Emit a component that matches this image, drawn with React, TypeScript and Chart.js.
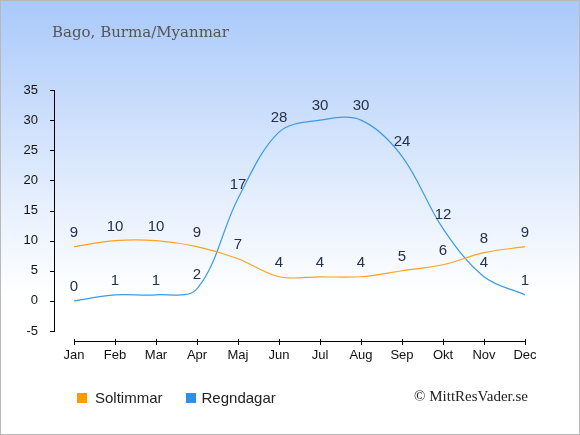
import { useEffect, useRef } from "react";
import { Chart, registerables } from "chart.js";

Chart.register(...registerables);

const months = ["Jan", "Feb", "Mar", "Apr", "Maj", "Jun", "Jul", "Aug", "Sep", "Okt", "Nov", "Dec"];
const sunHours = [9, 10, 10, 9, 7, 4, 4, 4, 5, 6, 8, 9];
const rainDays = [0, 1, 1, 2, 17, 28, 30, 30, 24, 12, 4, 1];
const yTicks = [-5, 0, 5, 10, 15, 20, 25, 30, 35];

const SUN = "#ffa21f";
const RAIN = "#3a9be8";

// axes are drawn detached from the plot area, like the original
const axesPlugin = {
  id: "detachedAxes",
  afterDraw(chart: any) {
    const ctx = chart.ctx;
    const x = chart.scales.x;
    const y = chart.scales.y;
    const axisX = chart.chartArea.left - 20;
    const axisY = chart.chartArea.bottom + 10;
    ctx.save();
    ctx.strokeStyle = "#000";
    ctx.lineWidth = 1;
    ctx.beginPath();
    ctx.moveTo(axisX + 0.5, y.getPixelForValue(yTicks[yTicks.length - 1]));
    ctx.lineTo(axisX + 0.5, y.getPixelForValue(yTicks[0]));
    yTicks.forEach((v) => {
      const py = Math.round(y.getPixelForValue(v)) + 0.5;
      ctx.moveTo(axisX - 4, py);
      ctx.lineTo(axisX + 1, py);
    });
    ctx.moveTo(x.getPixelForValue(0), axisY + 0.5);
    ctx.lineTo(x.getPixelForValue(months.length - 1), axisY + 0.5);
    months.forEach((_, i) => {
      const px = Math.round(x.getPixelForValue(i)) + 0.5;
      ctx.moveTo(px, axisY - 2);
      ctx.lineTo(px, axisY + 4);
    });
    ctx.stroke();
    ctx.restore();
  },
};

const valueLabels = {
  id: "valueLabels",
  afterDatasetsDraw(chart: any) {
    const ctx = chart.ctx;
    ctx.save();
    ctx.font = "15px 'Liberation Sans', Arial, sans-serif";
    ctx.fillStyle = "#25304a";
    ctx.textAlign = "center";
    ctx.textBaseline = "middle";
    chart.data.datasets.forEach((ds: any, di: number) => {
      chart.getDatasetMeta(di).data.forEach((pt: any, i: number) => {
        ctx.fillText(String(ds.data[i]), pt.x, pt.y - 14);
      });
    });
    ctx.restore();
  },
};

const App = () => {
  const canvasRef = useRef<HTMLCanvasElement>(null);

  useEffect(() => {
    if (!canvasRef.current) return;
    const tickFont = { family: "'Liberation Sans', Arial, sans-serif", size: 13 };
    const myChart = new Chart(canvasRef.current, {
      type: "line",
      data: {
        labels: months,
        datasets: [
          {
            label: "Soltimmar",
            data: sunHours,
            borderColor: SUN,
            backgroundColor: SUN,
            borderWidth: 1.2,
            pointRadius: 0,
            tension: 0.35,
          },
          {
            label: "Regndagar",
            data: rainDays,
            borderColor: RAIN,
            backgroundColor: RAIN,
            borderWidth: 1.2,
            pointRadius: 0,
            tension: 0.35,
          },
        ],
      },
      options: {
        animation: false,
        responsive: false,
        devicePixelRatio: 1,
        layout: { padding: { left: 0, top: 90, right: 55, bottom: 0 } },
        plugins: {
          legend: { display: false },
          title: { display: false },
          tooltip: { enabled: false },
        },
        scales: {
          x: {
            offset: false,
            grid: { display: false },
            border: { display: false },
            ticks: { color: "#111", font: tickFont, padding: 9, maxRotation: 0, autoSkip: false },
            afterFit: (s: any) => {
              s.height = 104;
            },
          },
          y: {
            min: -5,
            max: 35,
            grid: { display: false },
            border: { display: false },
            ticks: { stepSize: 5, color: "#111", font: tickFont, padding: 28 },
            afterFit: (s: any) => {
              s.width = 74;
            },
          },
        },
      },
      plugins: [axesPlugin, valueLabels],
    });
    return () => myChart.destroy();
  }, []);

  return (
    <div
      style={{
        position: "fixed",
        left: 0,
        top: 0,
        width: 580,
        height: 435,
        background: "linear-gradient(to bottom, #a9c9fa 0%, #e4eefd 45%, #ffffff 68%, #ffffff 100%)",
        fontFamily: "'Liberation Sans', Arial, sans-serif",
      }}
    >
      <canvas ref={canvasRef} width={580} height={435} style={{ position: "absolute", left: 0, top: 0 }} />
      <div
        style={{
          position: "absolute",
          left: 52,
          top: 23,
          fontFamily: "'DejaVu Serif', serif",
          fontSize: 15,
          color: "#555",
        }}
      >
        Bago, Burma/Myanmar
      </div>
      <div style={{ position: "absolute", left: 77, top: 389, display: "flex", alignItems: "center", fontSize: 15, color: "#222" }}>
        <span style={{ width: 10, height: 10, background: "#ff9a00", display: "inline-block", marginRight: 8 }} />
        <span>Soltimmar</span>
        <span style={{ width: 10, height: 10, background: "#2e8fe6", display: "inline-block", marginLeft: 23, marginRight: 6 }} />
        <span>Regndagar</span>
      </div>
      <div
        style={{
          position: "absolute",
          right: 52,
          top: 388,
          fontFamily: "'Liberation Serif', serif",
          fontSize: 15,
          color: "#222",
        }}
      >
        © MittResVader.se
      </div>
      <div
        style={{
          position: "absolute",
          left: 0,
          top: 0,
          width: 580,
          height: 435,
          boxSizing: "border-box",
          border: "1px solid #b8b8b8",
          pointerEvents: "none",
        }}
      />
    </div>
  );
};

export default App;
